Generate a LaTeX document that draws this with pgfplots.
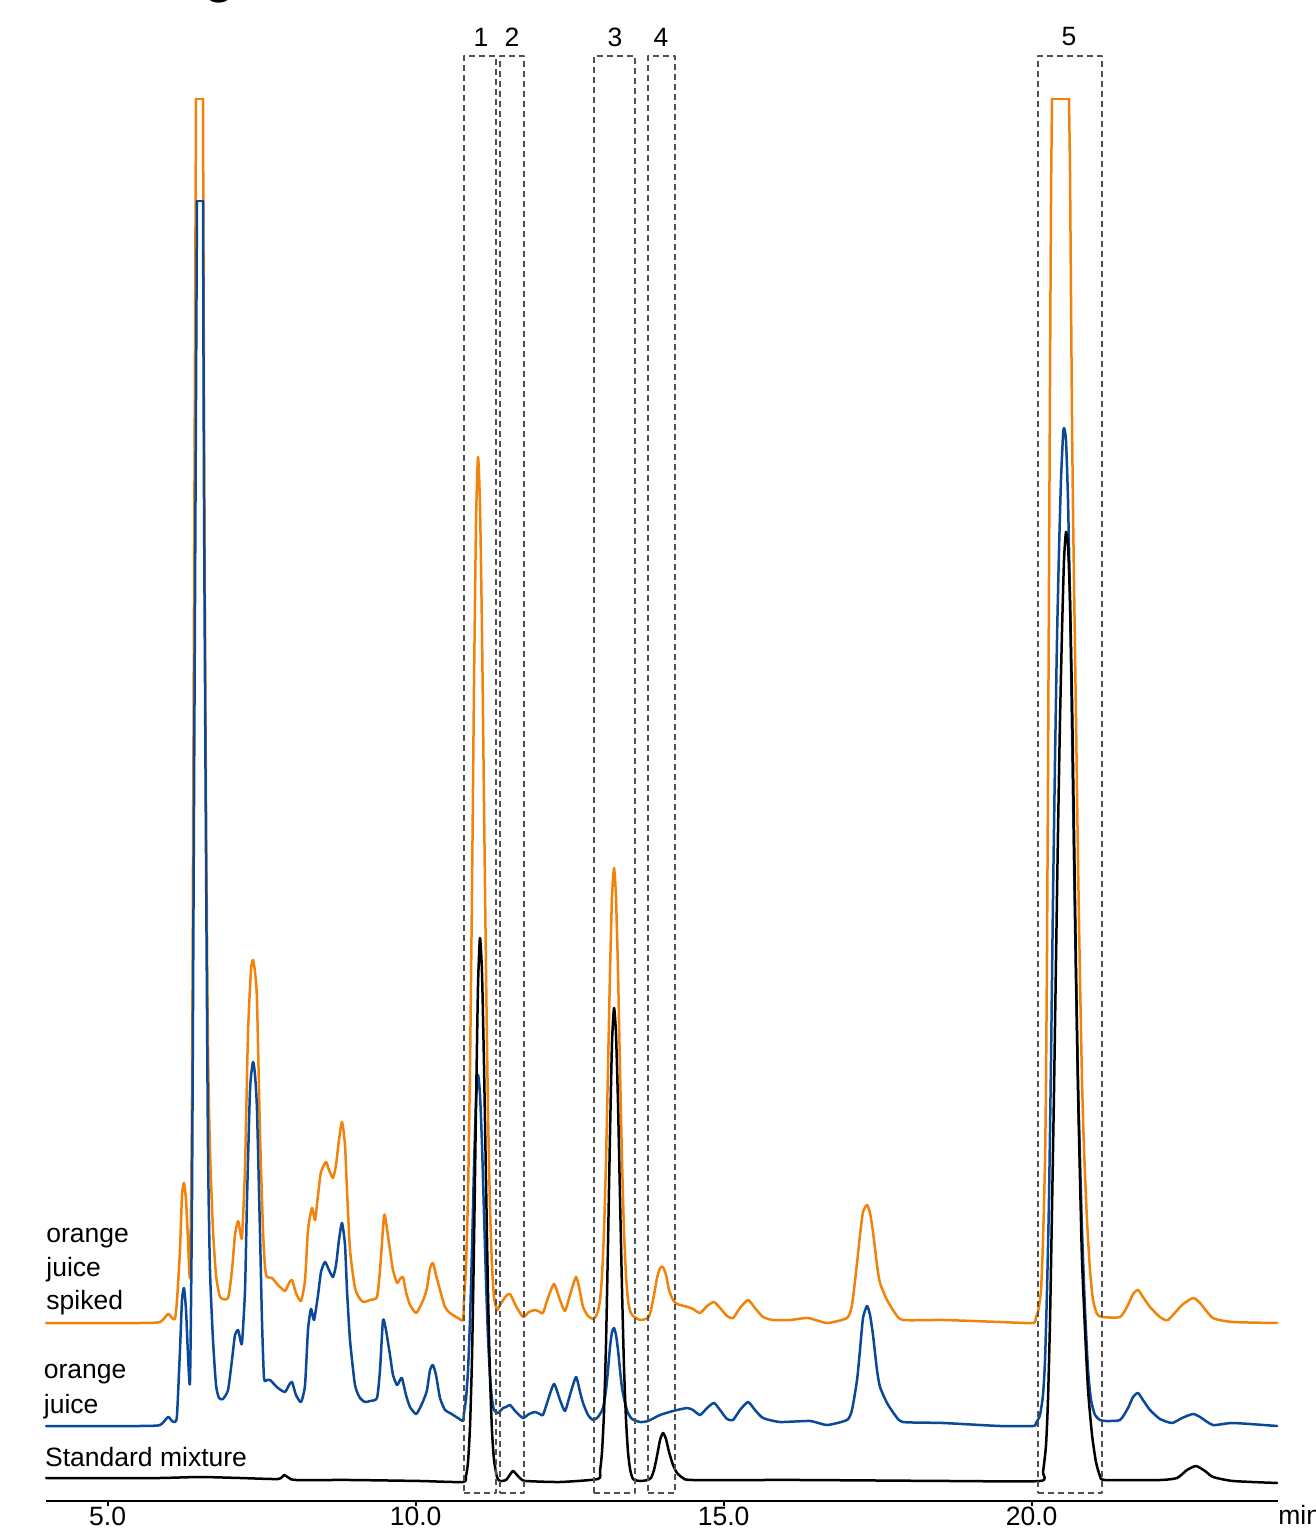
\documentclass[border=0pt]{standalone}
\usepackage{fontspec}
\setmainfont{Liberation Sans}
\usepackage{pgfplots}
\pgfplotsset{compat=1.18}
\definecolor{oj}{RGB}{242,130,10}
\definecolor{bj}{RGB}{10,72,152}
\definecolor{boxc}{RGB}{80,80,80}
\newcommand{\lbl}{\fontsize{13.25}{16}\selectfont}
\begin{document}
\begin{tikzpicture}
\begin{axis}[
  scale only axis, width=616pt, height=750.5pt,
  xmin=4, xmax=24, ymin=0, ymax=1501,
  clip=false,
  axis x line=bottom, axis y line=none,
  axis line style={-, line width=1pt, black},
  xtick={5,10,15,20}, ytick=\empty,
  tick align=outside, major tick length=2.5pt,
  every tick/.style={black, line width=1pt},
  xticklabel style={font=\lbl, yshift=2.8pt, /pgf/number format/.cd, fixed, fixed zerofill, precision=1, assume math mode=true},
  every axis plot/.append style={line width=1.25pt, line join=round, line cap=round, mark=none},
]
% ---------- orange juice spiked ----------
\addplot[oj, smooth, tension=0.35] coordinates {
(4.000,178) (5.526,178) (5.851,179) (5.981,187) (6.045,183) (6.094,182) (6.127,201) (6.175,251) (6.208,306) (6.240,318) (6.273,301) (6.305,261) (6.338,226) (6.370,401) (6.403,901) (6.435,1402)
};
\addplot[oj] coordinates {(6.435,1402) (6.549,1402)};
\addplot[oj, smooth, tension=0.35] coordinates {
(6.549,1402) (6.565,1101) (6.597,701) (6.630,451) (6.662,351) (6.711,271) (6.760,226) (6.825,204) (6.955,203) (7.019,231) (7.068,266) (7.117,280) (7.149,271) (7.182,264) (7.231,334) (7.279,468) (7.328,531) (7.360,541) (7.393,529) (7.425,501) (7.474,368) (7.523,271) (7.555,234) (7.588,224) (7.669,223) (7.766,216) (7.880,210) (7.945,218) (7.994,221) (8.058,208) (8.140,200) (8.205,221) (8.253,271) (8.318,293) (8.367,281) (8.416,306) (8.464,329) (8.545,339) (8.594,331) (8.659,323) (8.708,336) (8.756,361) (8.805,379) (8.854,356) (8.886,311) (8.935,251) (9.016,213) (9.097,202) (9.162,199) (9.260,201) (9.373,204) (9.422,231) (9.487,285) (9.519,279) (9.584,251) (9.633,231) (9.698,218) (9.747,222) (9.795,224) (9.844,209) (9.909,196) (10.006,188) (10.071,194) (10.136,203) (10.185,213) (10.234,233) (10.282,238) (10.331,226) (10.396,211) (10.477,194) (10.558,188) (10.688,183) (10.769,181)
(10.786,201) (10.818,235) (10.851,307) (10.883,433) (10.916,613) (10.948,815) (10.981,980) (11.013,1044) (11.045,997) (11.078,869) (11.110,700) (11.143,530) (11.175,391) (11.208,293) (11.240,235) (11.273,204) (11.321,191)
(11.370,196) (11.468,205) (11.532,207) (11.630,195) (11.744,184) (11.841,189) (11.938,191) (12.019,189) (12.068,188) (12.149,203) (12.247,217) (12.344,201) (12.425,190) (12.506,206) (12.604,224) (12.669,209) (12.718,194) (12.799,185) (12.880,182)
(12.929,185) (12.961,190) (12.994,201) (13.026,225) (13.058,270) (13.091,340) (13.123,432) (13.156,529) (13.188,604) (13.221,633) (13.253,604) (13.286,529) (13.318,432) (13.351,340) (13.383,270) (13.416,225) (13.448,201) (13.481,190) (13.529,185)
(13.643,181) (13.773,183) (13.821,191) (13.870,206) (13.919,223) (13.968,233) (14.016,234) (14.065,226) (14.114,211) (14.179,201) (14.244,197) (14.422,194) (14.503,192) (14.617,188) (14.731,195) (14.844,199) (14.942,193) (15.055,185) (15.153,183) (15.266,193) (15.396,201) (15.510,193) (15.640,184) (15.802,181) (16.078,181) (16.370,183) (16.679,178) (17.003,183) (17.084,196) (17.166,238) (17.214,266) (17.263,289) (17.328,296) (17.377,288) (17.425,269) (17.490,236) (17.539,218) (17.653,201) (17.782,188) (17.912,181) (18.562,181) (19.487,179) (20.023,178)
(20.071,184) (20.104,189) (20.153,211) (20.185,261) (20.218,341) (20.234,421) (20.250,551) (20.266,721) (20.282,921) (20.299,1121) (20.315,1301) (20.331,1402)
};
\addplot[oj] coordinates {(20.331,1402) (20.607,1402)};
\addplot[oj, smooth, tension=0.35] coordinates {
(20.607,1402) (20.623,1331) (20.640,1201) (20.656,1081) (20.672,991) (20.688,921) (20.721,781) (20.753,641) (20.786,521) (20.818,421) (20.851,351) (20.899,281) (20.948,231) (20.997,201) (21.062,187) (21.143,184)
(21.435,184) (21.565,196) (21.646,207) (21.727,211) (21.808,204) (21.922,194) (22.084,184) (22.214,181) (22.442,196) (22.620,203) (22.734,198) (22.945,183) (23.269,179) (23.984,178)
};
% ---------- orange juice ----------
\addplot[bj, smooth, tension=0.35] coordinates {
(4.000,75) (5.526,75) (5.851,76) (5.981,84) (6.045,80) (6.094,79) (6.127,86) (6.175,151) (6.208,201) (6.240,213) (6.273,191) (6.305,146) (6.338,120) (6.370,301) (6.403,701) (6.435,1101) (6.451,1300)
};
\addplot[bj] coordinates {(6.451,1300) (6.549,1300)};
\addplot[bj, smooth, tension=0.35] coordinates {
(6.549,1300) (6.565,1001) (6.597,651) (6.630,351) (6.662,231) (6.711,161) (6.760,116) (6.808,103) (6.873,102) (6.955,111) (7.019,141) (7.068,166) (7.117,171) (7.149,163) (7.182,158) (7.231,211) (7.263,301) (7.312,411) (7.360,439) (7.393,426) (7.425,391) (7.474,268) (7.506,181) (7.539,123) (7.588,121) (7.636,121) (7.766,113) (7.880,109) (7.945,116) (7.994,119) (8.058,106) (8.140,99) (8.205,116) (8.253,171) (8.302,192) (8.351,181) (8.416,206) (8.464,229) (8.529,239) (8.594,231) (8.659,224) (8.708,236) (8.756,261) (8.805,278) (8.854,256) (8.886,211) (8.935,161) (9.016,116) (9.097,103) (9.179,99) (9.260,100) (9.373,103) (9.422,131) (9.471,181) (9.519,171) (9.584,146) (9.633,126) (9.698,116) (9.747,121) (9.779,123) (9.844,106) (9.909,94) (10.006,87) (10.071,93) (10.136,102) (10.185,111) (10.234,131) (10.282,136) (10.331,126) (10.396,103) (10.477,91) (10.558,88) (10.688,83) (10.769,80)
(10.786,88) (10.818,102) (10.851,131) (10.883,181) (10.916,253) (10.948,334) (10.981,400) (11.013,426) (11.045,407) (11.078,356) (11.110,288) (11.143,220) (11.175,164) (11.208,125) (11.240,102) (11.273,91) (11.338,88)
(11.419,93) (11.468,94) (11.532,96) (11.630,89) (11.744,83) (11.841,87) (11.938,89) (12.019,87) (12.068,86) (12.149,101) (12.247,117) (12.344,101) (12.425,90) (12.506,106) (12.604,124) (12.669,109) (12.718,98) (12.799,86) (12.880,81) (12.961,84) (13.042,93)
(13.091,111) (13.123,131) (13.156,154) (13.188,169) (13.221,173) (13.253,166) (13.286,151) (13.318,131) (13.351,113) (13.399,98) (13.448,88) (13.513,82) (13.643,79) (13.773,80) (13.968,86) (14.179,90) (14.406,93) (14.503,91) (14.617,86) (14.731,93) (14.844,98) (14.942,91) (15.055,82) (15.153,81) (15.266,91) (15.396,99) (15.510,91) (15.640,83) (15.916,79) (16.403,80) (16.679,76) (17.003,81) (17.084,91) (17.166,121) (17.214,151) (17.263,183) (17.328,195) (17.377,186) (17.425,166) (17.490,131) (17.539,114) (17.653,98) (17.782,86) (17.912,79) (18.562,78) (19.487,75) (20.023,75)
(20.071,78) (20.136,86) (20.185,106) (20.218,141) (20.250,211) (20.282,301) (20.315,441) (20.347,601) (20.380,741) (20.412,861) (20.445,951) (20.477,1021) (20.510,1066) (20.526,1073) (20.558,1061) (20.591,1001) (20.623,901) (20.656,771) (20.688,641) (20.721,521) (20.753,421) (20.786,341) (20.818,271) (20.867,191) (20.916,131) (20.964,101) (21.029,86) (21.110,81) (21.208,80)
(21.435,81) (21.565,93) (21.646,104) (21.727,108) (21.808,101) (21.922,91) (22.084,82) (22.279,78) (22.442,83) (22.620,87) (22.734,84) (22.945,76) (23.269,78) (23.984,75)
};
% ---------- standard mixture ----------
\addplot[black, smooth, tension=0.35] coordinates {
(4.000,23) (4.877,23) (5.851,23) (6.500,24) (7.149,23) (7.766,22) (7.864,26) (7.945,23) (8.058,21) (8.935,21) (10.071,20) (10.769,19)
(10.818,25) (10.851,39) (10.883,74) (10.916,144) (10.948,257) (10.981,396) (11.013,515) (11.045,563) (11.078,528) (11.110,437) (11.143,320) (11.175,209) (11.208,124) (11.240,70) (11.273,41) (11.321,24)
(11.370,20) (11.468,21) (11.516,25) (11.581,30) (11.646,26) (11.711,22) (11.792,20) (12.344,19) (12.961,22)
(12.994,30) (13.026,49) (13.058,88) (13.091,157) (13.123,256) (13.156,367) (13.188,458) (13.221,493) (13.253,467) (13.286,397) (13.318,304) (13.351,211) (13.383,134) (13.416,81) (13.448,49) (13.481,32) (13.529,22)
(13.643,20) (13.773,21) (13.821,23) (13.870,31) (13.919,45) (13.968,61) (14.016,68) (14.065,62) (14.114,49) (14.179,36) (14.244,28) (14.341,23) (14.503,21) (16.240,21) (18.675,20) (20.136,20)
(20.185,29) (20.234,56) (20.266,101) (20.299,181) (20.331,291) (20.364,411) (20.396,541) (20.429,671) (20.461,781) (20.494,871) (20.526,941) (20.558,969) (20.591,956) (20.623,901) (20.656,801) (20.688,671) (20.721,531) (20.753,411) (20.786,321) (20.818,241) (20.867,171) (20.916,111) (20.981,66) (21.045,39) (21.110,25) (21.192,21)
(22.084,21) (22.360,23) (22.523,31) (22.669,35) (22.815,30) (22.945,24) (23.269,20) (23.984,18)
};
% ---------- dashed boxes ----------
\addplot[boxc, line width=0.7pt, line cap=butt, dash pattern=on 3pt off 2pt] coordinates {(10.786,8) (11.305,8) (11.305,1445) (10.786,1445) (10.786,8)};
\addplot[boxc, line width=0.7pt, line cap=butt, dash pattern=on 3pt off 2pt] coordinates {(11.370,8) (11.760,8) (11.760,1445) (11.370,1445) (11.370,8)};
\addplot[boxc, line width=0.7pt, line cap=butt, dash pattern=on 3pt off 2pt] coordinates {(12.896,8) (13.562,8) (13.562,1445) (12.896,1445) (12.896,8)};
\addplot[boxc, line width=0.7pt, line cap=butt, dash pattern=on 3pt off 2pt] coordinates {(13.773,8) (14.211,8) (14.211,1445) (13.773,1445) (13.773,8)};
\addplot[boxc, line width=0.7pt, line cap=butt, dash pattern=on 3pt off 2pt] coordinates {(20.104,8) (21.143,8) (21.143,1445) (20.104,1445) (20.104,8)};
% box numbers
\node[font=\lbl] at (axis cs:11.062,1464) {1};
\node[font=\lbl] at (axis cs:11.565,1464) {2};
\node[font=\lbl] at (axis cs:13.237,1464) {3};
\node[font=\lbl] at (axis cs:13.984,1464) {4};
\node[font=\lbl] at (axis cs:20.607,1464) {5};
% trace labels
\node[font=\lbl, anchor=base west, inner sep=0pt] at (axis cs:4.0,258) {orange};
\node[font=\lbl, anchor=base west, inner sep=0pt] at (axis cs:4.0,224) {juice};
\node[font=\lbl, anchor=base west, inner sep=0pt] at (axis cs:4.0,191) {spiked};
\node[font=\lbl, anchor=base west, inner sep=0pt] at (axis cs:3.96,122) {orange};
\node[font=\lbl, anchor=base west, inner sep=0pt] at (axis cs:3.96,88) {juice};
\node[font=\lbl, anchor=base west, inner sep=0pt] at (axis cs:3.98,35) {Standard mixture};
\node[font=\lbl, anchor=base west, inner sep=0pt] at (axis cs:24.0,-23.5) {min};
% cropped panel letter
\node[font=\bfseries\fontsize{25}{30}\selectfont, anchor=base, inner sep=0pt] at (axis cs:6.825,1508) {g};
\coordinate (bbSW) at (axis cs:3.2532,-29);
\coordinate (bbNE) at (axis cs:24.601,1501);
\end{axis}
\pgfresetboundingbox
\path[use as bounding box] (bbSW) rectangle (bbNE);
\end{tikzpicture}
\end{document}
